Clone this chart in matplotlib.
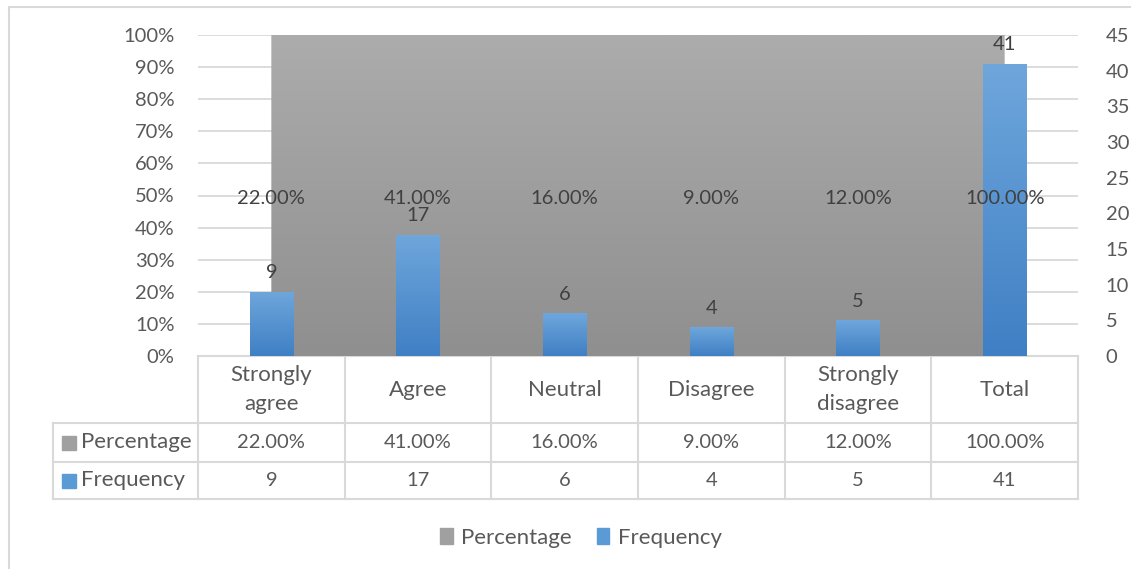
import numpy as np
import matplotlib.pyplot as plt
from matplotlib.patches import Patch, Rectangle
from matplotlib.transforms import blended_transform_factory

categories = ["Strongly\nagree", "Agree", "Neutral", "Disagree", "Strongly\ndisagree", "Total"]
percentage = [22.00, 41.00, 16.00, 9.00, 12.00, 100.00]
frequency = [9, 17, 6, 4, 5, 41]
pct_ticks = [0, 10, 20, 30, 40, 50, 60, 70, 80, 90, 100]
freq_ticks = [0, 5, 10, 15, 20, 25, 30, 35, 40, 45]

plt.rcParams["font.family"] = ["Lato", "DejaVu Sans"]
txt = "#595959"
grid = "#d9d9d9"
fs = 14.5      # numbers
fw = 16        # words

fig = plt.figure(figsize=(11.31, 5.69), dpi=100)
ax = fig.add_axes([198 / 1131, 1 - 356 / 569, 880 / 1131, 321 / 569])
ax2 = ax.twinx()
ax.set_zorder(1)
ax2.set_zorder(2)
ax.patch.set_visible(False)
ax2.patch.set_visible(False)

x = np.arange(len(categories))

# percentage series: area, values entered as plain numbers so they overflow the 0-100% axis
area = ax.fill_between(x, 0, percentage, color="none", zorder=1)
grad = np.linspace(1, 0, 256).reshape(-1, 1)
gcmap = plt.matplotlib.colors.LinearSegmentedColormap.from_list("g", ["#8f8f8f", "#acacac"])
img = ax.imshow(grad, extent=[x[0], x[-1], 0, 1], aspect="auto", cmap=gcmap, zorder=1)
img.set_clip_path(area.get_paths()[0], ax.transData)
ax.set_xlim(-0.5, len(categories) - 0.5)
ax.set_ylim(0, 1)

ax.set_yticks([t / 100 for t in pct_ticks])
ax.set_yticklabels([f"{t}%" for t in pct_ticks])
ax.yaxis.grid(True, color=grid, lw=1.3, zorder=0)
ax.set_axisbelow(True)
ax.tick_params(axis="y", length=0, pad=17, labelsize=fs, labelcolor=txt)
ax.set_xticks([])
for s in ax.spines.values():
    s.set_visible(False)
for s in ax2.spines.values():
    s.set_visible(False)

# frequency series: bars on secondary axis
bars = ax2.bar(x, frequency, width=0.295, color="none", zorder=3)
bgrad = plt.matplotlib.colors.LinearSegmentedColormap.from_list("b", ["#3f7fc4", "#6fa7dc"])
for b in bars:
    bx = b.get_x()
    im = ax2.imshow(grad, extent=[bx, bx + b.get_width(), 0, b.get_height()], aspect="auto",
                    cmap=bgrad, zorder=3)
    im.set_clip_path(b)
ax2.set_xlim(-0.5, len(categories) - 0.5)
ax2.set_ylim(0, 45)
for xi, f in zip(x, frequency):
    ax2.text(xi, f + 1.5, str(f), ha="center", va="bottom", fontsize=fs, color="#404040", zorder=5)
# percentage labels drawn last so they sit on top of the bars
for xi, p in zip(x, percentage):
    ax2.text(xi, 0.49, f"{p:.2f}%", ha="center", va="center", fontsize=fs, color="#404040",
             transform=blended_transform_factory(ax.transData, ax.transAxes), zorder=6)
ax2.set_yticks(freq_ticks)
ax2.tick_params(axis="y", length=0, pad=20, labelsize=fs, labelcolor=txt)

# data table under the plot
tr = blended_transform_factory(ax.transData, ax.transAxes)
y_head, y_pct, y_freq = -67 / 321, -106 / 321, -143 / 321
x_left = -0.5 - 145 / 146.7
lkw = dict(color=grid, lw=1.5, transform=tr, clip_on=False, zorder=0)
ax.plot([-0.5, 5.5], [0, 0], **lkw)
for yy in (y_head, y_pct, y_freq):
    ax.plot([x_left, 5.5], [yy, yy], **lkw)
for xb in np.arange(-0.5, 6.0, 1.0):
    ax.plot([xb, xb], [0, y_freq], **lkw)
ax.plot([x_left, x_left], [y_head, y_freq], **lkw)

for xi, c in enumerate(categories):
    ax.text(xi, y_head / 2, c, ha="center", va="center", fontsize=fw, color=txt,
            transform=tr, linespacing=1.55)
    ax.text(xi, (y_head + y_pct) / 2, f"{percentage[xi]:.2f}%", ha="center", va="center",
            fontsize=fs, color=txt, transform=tr)
    ax.text(xi, (y_pct + y_freq) / 2, str(frequency[xi]), ha="center", va="center",
            fontsize=fs, color=txt, transform=tr)

sq_x = -0.5 - (198 - 69) / 146.7
lab_x = -0.5 - (198 - 81) / 146.7
for yy, col, name in [((y_head + y_pct) / 2, "#a0a0a0", "Percentage"),
                      ((y_pct + y_freq) / 2, "#5b9bd5", "Frequency")]:
    ax.plot([sq_x], [yy], marker="s", ms=10, color=col, transform=tr, clip_on=False)
    ax.text(lab_x, yy, name, ha="left", va="center", fontsize=fw, color=txt, transform=tr)

fig.legend(handles=[Patch(color="#a0a0a0", label="Percentage"),
                    Patch(color="#5b9bd5", label="Frequency")],
           loc="center", bbox_to_anchor=(581 / 1131, 1 - 538 / 569), ncol=2, frameon=False,
           fontsize=fw, labelcolor=txt, handlelength=0.55, handleheight=0.7,
           handletextpad=0.4, columnspacing=1.1)

fig.add_artist(Rectangle((9 / 1131, -0.05), 1.2, 1 - 7 / 569 + 0.05, transform=fig.transFigure,
                         fill=False, edgecolor=grid, lw=1.5))

fig.savefig("out.png", dpi=100)
